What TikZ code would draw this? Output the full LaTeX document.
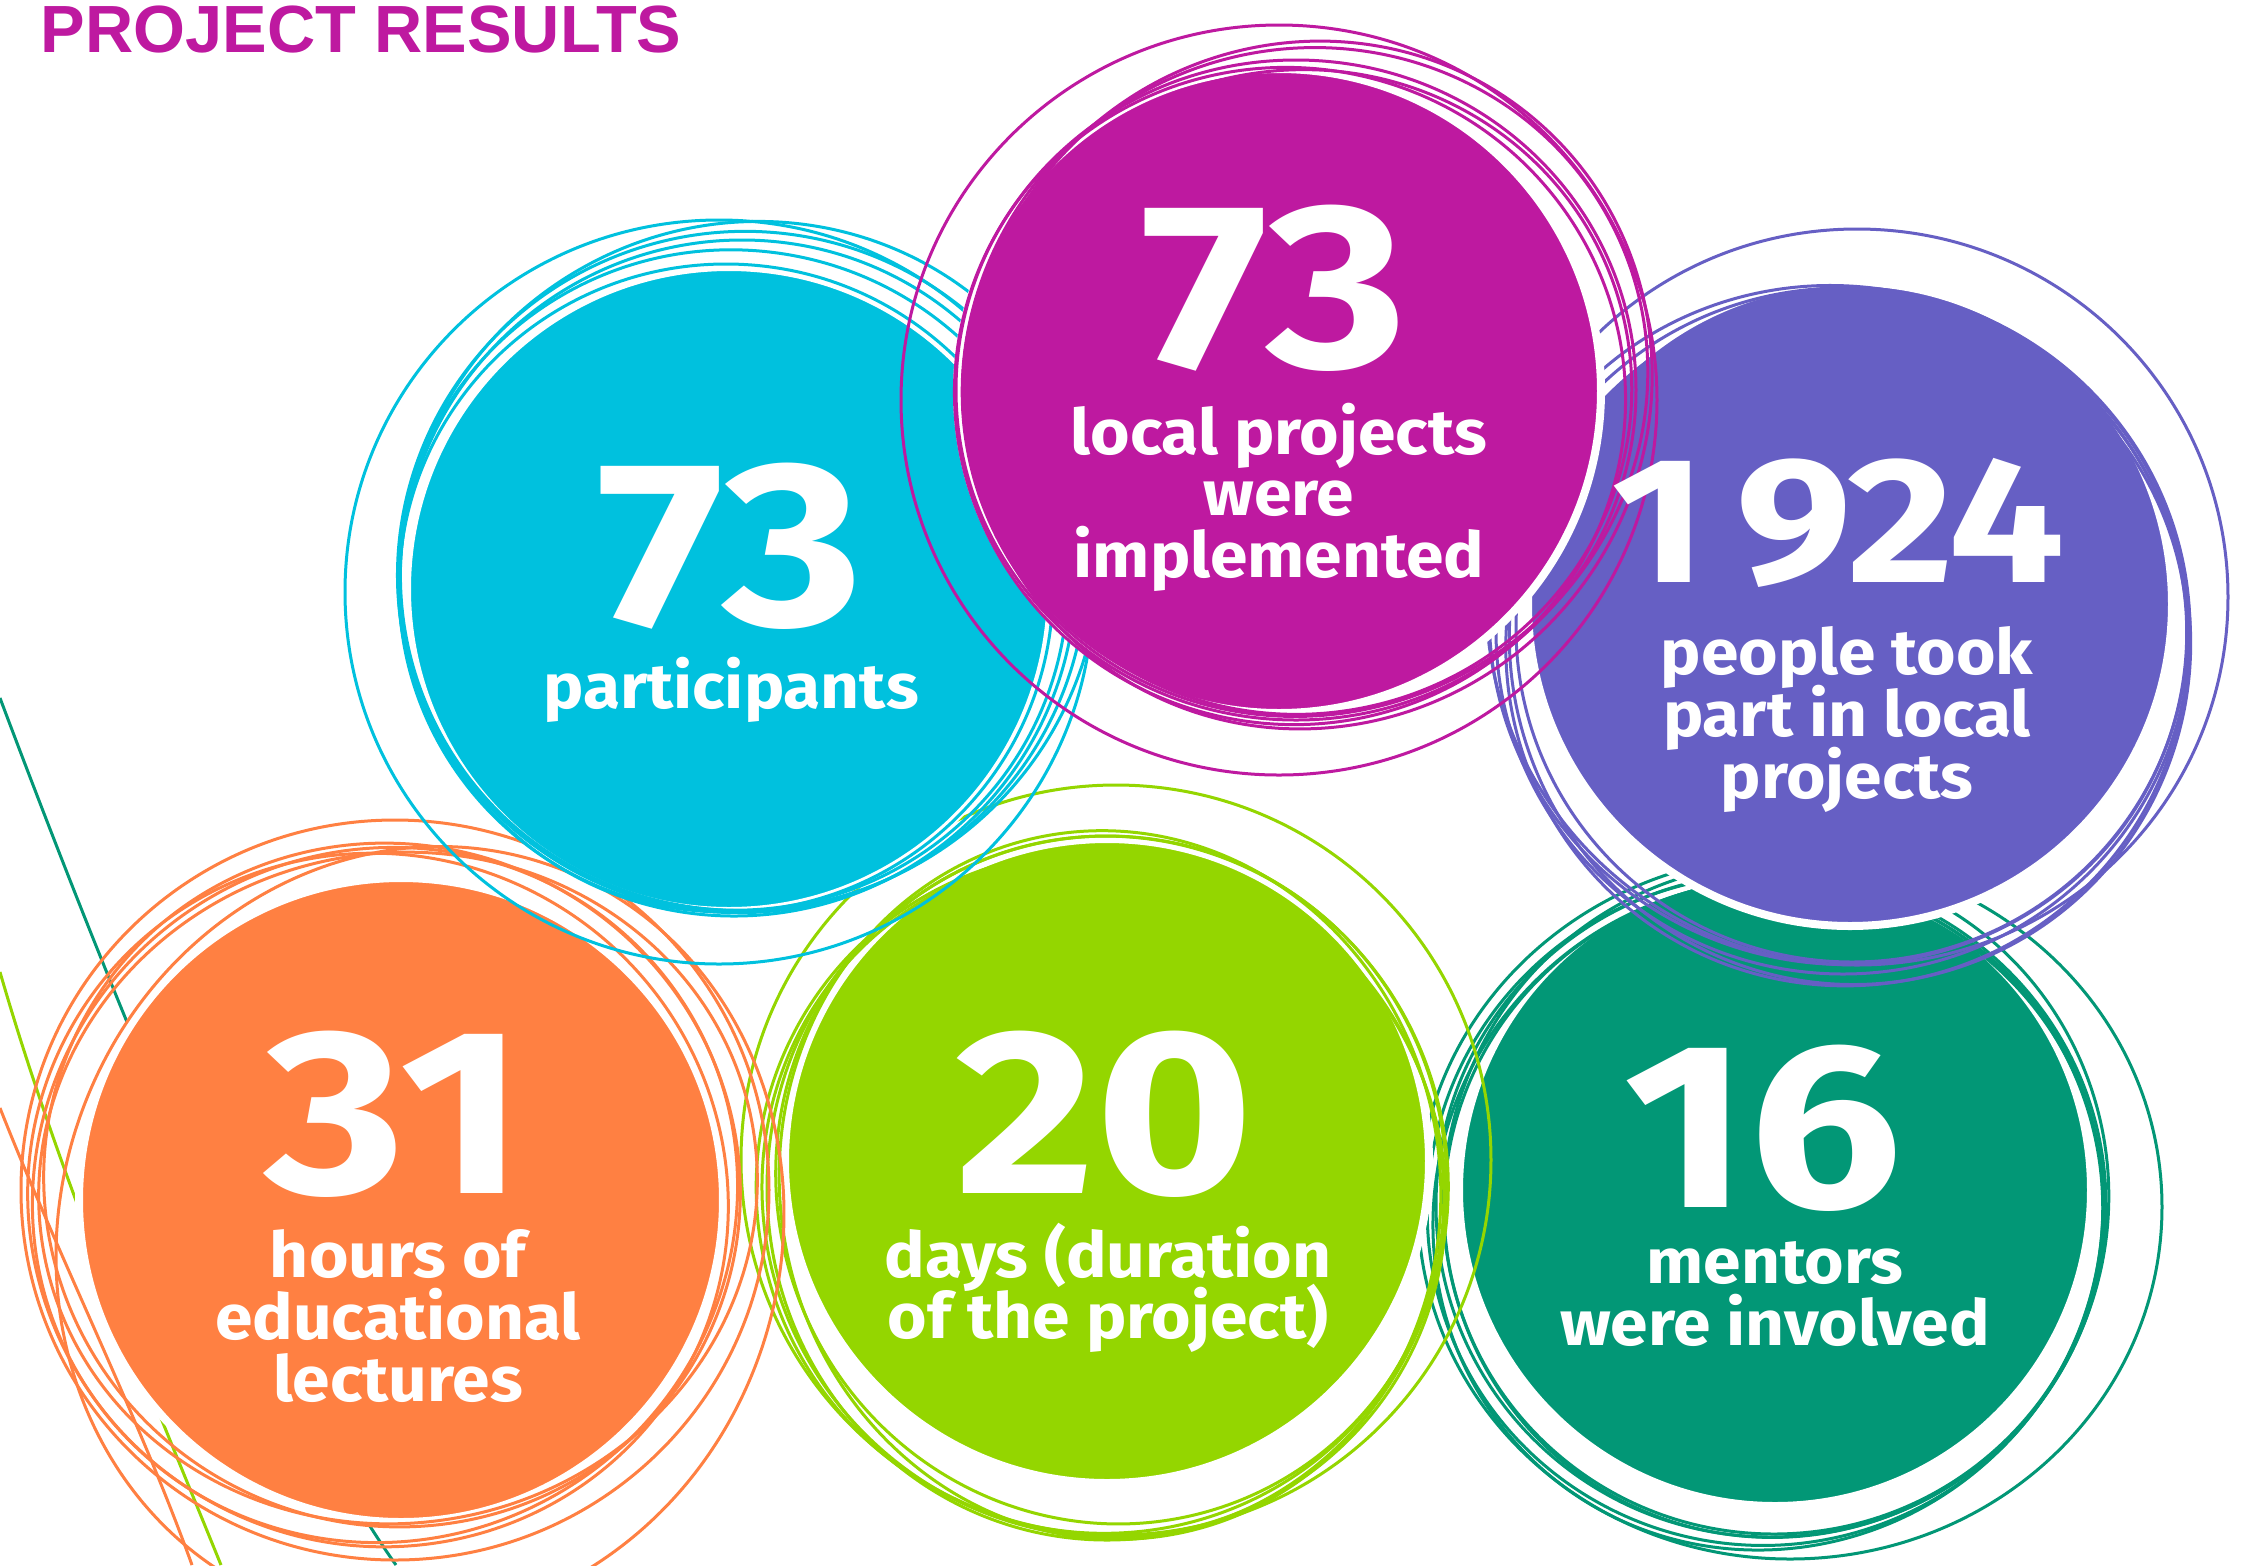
\documentclass[tikz,border=0pt]{standalone}
\usepackage{fontspec}
\usepackage{tikz}
\usetikzlibrary{positioning}
\newfontfamily\titlefont{Liberation Sans}
\newfontfamily\statfont{Fira Sans}[FakeStretch=1.07]
\newfontfamily\numfont{Fira Sans}[FakeStretch=1.15]
\newcommand{\captionfont}{\statfont\bfseries\fontsize{18}{17.6}\selectfont\lineskiplimit=-20pt\relax}
\definecolor{cyanc}{RGB}{0,193,222}
\definecolor{magentac}{RGB}{190,25,160}
\definecolor{purplec}{RGB}{102,95,196}
\definecolor{orangec}{RGB}{255,128,66}
\definecolor{limec}{RGB}{148,214,0}
\definecolor{tealc}{RGB}{2,151,118}
\tikzset{
    blob/.style={
           circle,
           fill=#1,
           draw=white, line width=0.8mm,
           minimum size=64.4mm,
           inner sep=0pt,
           },
    ring/.style={
           draw=#1,
           line width=0.3mm,
           },
    bignum/.style={
           text=white,
           font=\numfont\bfseries\fontsize{67}{67}\selectfont,
           anchor=base,
           inner sep=0pt,
           },
    caption/.style={
           text=white,
           font=\captionfont,
           align=center,
           anchor=north,
           inner sep=0pt,
           },
}

\begin{document}
\begin{tikzpicture}[x=0.1mm,y=-0.1mm]
        % page frame, 1 unit = 1 px of the poster
        \useasboundingbox (0,0) rectangle (2254,1565);
        \fill[white] (0,0) rectangle (2254,1565);
        \clip (0,0) rectangle (2254,1565);

        % thin strokes coming in from the left edge
        \draw[ring=tealc]   (0,698)  .. controls (170,1150) and (300,1430) .. (396,1565);
        \draw[ring=limec]   (0,972)  .. controls (60,1180) and (150,1390) .. (221,1565);
        \draw[ring=orangec] (0,1108) .. controls (60,1260) and (140,1420) .. (192,1565);

        % CIRCLE MENTORS (teal)
        \node[blob=tealc, minimum size=63.2mm] (C_MENTORS) at (1775,1190) {};
        \draw[ring=tealc] (1790,1207) ellipse [x radius=372, y radius=352];
        \draw[ring=tealc] (1771,1205) ellipse [x radius=335, y radius=332];
        \draw[ring=tealc, rotate around={20:(1765,1210)}] (1765,1210) ellipse [x radius=338, y radius=335];
        \draw[ring=tealc, rotate around={-20:(1776,1200)}] (1776,1200) ellipse [x radius=332, y radius=338];
        \draw[ring=tealc, rotate around={45:(1768,1215)}] (1768,1215) ellipse [x radius=340, y radius=330];
        \draw[ring=tealc] (1774,1208) ellipse [x radius=330, y radius=326];

        % CIRCLE DAYS (lime)
        \node[blob=limec] (C_DAYS) at (1107,1161) {};
        \draw[ring=limec] (1116,1160) circle [radius=375];
        \draw[ring=limec] (1107,1188) ellipse [x radius=340, y radius=352];
        \draw[ring=limec, rotate around={20:(1112,1180)}] (1112,1180) ellipse [x radius=335, y radius=345];
        \draw[ring=limec, rotate around={-30:(1100,1192)}] (1100,1192) ellipse [x radius=345, y radius=340];
        \draw[ring=limec, rotate around={10:(1110,1185)}] (1110,1185) ellipse [x radius=330, y radius=355];
        \draw[ring=limec, rotate around={45:(1104,1195)}] (1104,1195) ellipse [x radius=338, y radius=346];

        % CIRCLE HOURS (orange)
        \node[blob=orangec] (C_HOURS) at (401,1200) {};
        \draw[ring=orangec] (395,1190) ellipse [x radius=374, y radius=370];
        \draw[ring=orangec, rotate around={30:(385,1195)}] (385,1195) ellipse [x radius=355, y radius=345];
        \draw[ring=orangec, rotate around={-25:(392,1185)}] (392,1185) ellipse [x radius=350, y radius=340];
        \draw[ring=orangec, rotate around={60:(378,1200)}] (378,1200) ellipse [x radius=345, y radius=352];
        \draw[ring=orangec, rotate around={10:(398,1188)}] (398,1188) ellipse [x radius=360, y radius=335];
        \draw[ring=orangec, rotate around={-20:(420,1235)}] (420,1235) ellipse [x radius=360, y radius=392];

        % CIRCLE PARTICIPANTS (cyan)
        \node[blob=cyanc] (C_PART) at (729,589) {};
        \draw[ring=cyanc] (719,592) ellipse [x radius=374, y radius=372];
        \draw[ring=cyanc, rotate around={20:(742,572)}] (742,572) ellipse [x radius=345, y radius=340];
        \draw[ring=cyanc, rotate around={-10:(733,580)}] (733,580) ellipse [x radius=335, y radius=330];
        \draw[ring=cyanc, rotate around={30:(750,566)}] (750,566) ellipse [x radius=352, y radius=342];
        \draw[ring=cyanc] (726,588) ellipse [x radius=327, y radius=324];
        \draw[ring=cyanc, rotate around={45:(738,578)}] (738,578) ellipse [x radius=340, y radius=336];

        % CIRCLE PEOPLE (purple)
        \node[blob=purplec] (C_PEOPLE) at (1850,604) {};
        \draw[ring=purplec] (1857,597) ellipse [x radius=371, y radius=368];
        \draw[ring=purplec] (1843,631) ellipse [x radius=347, y radius=343];
        \draw[ring=purplec, rotate around={20:(1850,640)}] (1850,640) ellipse [x radius=340, y radius=345];
        \draw[ring=purplec, rotate around={-20:(1838,625)}] (1838,625) ellipse [x radius=350, y radius=338];
        \draw[ring=purplec, rotate around={40:(1847,645)}] (1847,645) ellipse [x radius=342, y radius=340];
        \draw[ring=purplec] (1852,628) ellipse [x radius=336, y radius=334];

        % CIRCLE PROJECTS (magenta)
        \node[blob=magentac] (C_PROJ) at (1279,391) {};
        \draw[ring=magentac] (1279,400) ellipse [x radius=378, y radius=375];
        \draw[ring=magentac] (1296,390) ellipse [x radius=340, y radius=330];
        \draw[ring=magentac, rotate around={25:(1305,382)}] (1305,382) ellipse [x radius=345, y radius=332];
        \draw[ring=magentac, rotate around={-15:(1290,396)}] (1290,396) ellipse [x radius=336, y radius=328];
        \draw[ring=magentac, rotate around={50:(1310,385)}] (1310,385) ellipse [x radius=348, y radius=338];
        \draw[ring=magentac, rotate around={10:(1300,392)}] (1300,392) ellipse [x radius=332, y radius=322];

        % TITLE
        \node[anchor=base west, inner sep=0pt, text=magentac,
            font=\titlefont\bfseries\fontsize{19}{19}\selectfont] (TITLE) at (40,52) {PROJECT RESULTS};

        % numbers (on their baseline) and captions (top of first line)
        \node[bignum] (N_PART) at (730,625) {73};
        \node[caption] (T_PART) at (731,656) {participants};

        \node[bignum] (N_PROJ) at (1274,367) {73};
        \node[caption] (T_PROJ) at (1279,402) {local projects\\were\\implemented};

        \node[bignum, font=\numfont\bfseries\fontsize{51}{51}\selectfont] (N_PEOPLE) at (1838,582) {1\,924};
        \node[caption] (T_PEOPLE) at (1847,626) {people took\\part in local\\projects};

        \node[bignum] (N_HOURS) at (395,1193) {31};
        \node[caption] (T_HOURS) at (398,1229) {hours of\\educational\\lectures};

        \node[bignum] (N_DAYS) at (1105,1193) {20};
        \node[caption] (T_DAYS) at (1108,1222) {days (duration\\of the project)};

        \node[bignum] (N_MENTORS) at (1763,1207) {16};
        \node[caption] (T_MENTORS) at (1775,1241) {mentors\\were involved};

\end{tikzpicture}
\end{document}
